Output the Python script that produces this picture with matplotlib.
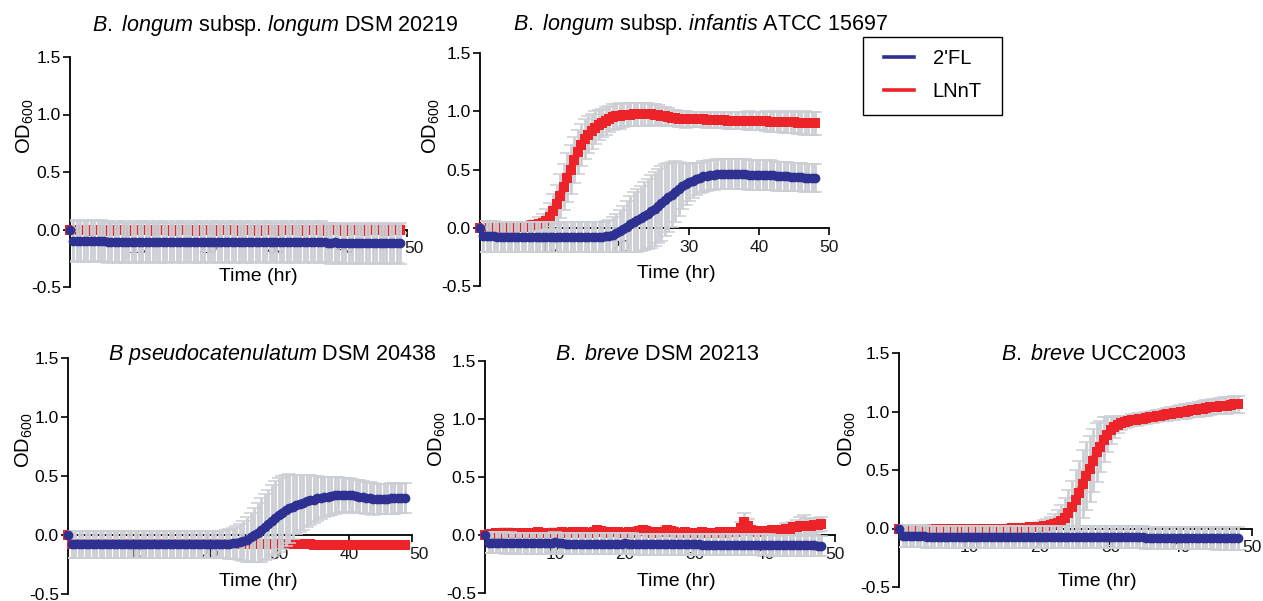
import numpy as np
import matplotlib
matplotlib.use("Agg")
import matplotlib.pyplot as plt
from matplotlib.lines import Line2D
from matplotlib.patches import Rectangle

plt.rcParams['font.family'] = ['Liberation Sans', 'DejaVu Sans']
plt.rcParams['mathtext.fontset'] = 'custom'
plt.rcParams['mathtext.rm'] = 'Liberation Sans'
plt.rcParams['mathtext.it'] = 'Liberation Sans:italic'
plt.rcParams['mathtext.bf'] = 'Liberation Sans:bold'

# ---------------- data ----------------
time_hr = np.arange(0, 48.5, 0.5)          # sampling times (hr)
series_labels = ["2'FL", "LNnT"]
x_ticks = [10, 20, 30, 40, 50]
x_tick_labels = ["10", "20", "30", "40", "50"]
y_ticks = [-0.5, 0.0, 0.5, 1.0, 1.5]
y_tick_labels = ["-0.5", "0.0", "0.5", "1.0", "1.5"]

titles = [
    r"$\mathit{B.}$ $\mathit{longum}$ subsp. $\mathit{longum}$ DSM 20219",
    r"$\mathit{B.}$ $\mathit{longum}$ subsp. $\mathit{infantis}$ ATCC 15697",
    r"$\mathit{B}$ $\mathit{pseudocatenulatum}$ DSM 20438",
    r"$\mathit{B.}$ $\mathit{breve}$ DSM 20213",
    r"$\mathit{B.}$ $\mathit{breve}$ UCC2003",
]

# B. longum subsp. longum DSM 20219
lon_2fl = [0.00, -0.10, -0.10, -0.10, -0.10, -0.10, -0.10, -0.10, -0.10, -0.10,
           -0.10, -0.11, -0.11, -0.11, -0.11, -0.11, -0.11, -0.11, -0.11, -0.11,
           -0.11, -0.11, -0.11, -0.11, -0.11, -0.11, -0.11, -0.11, -0.11, -0.11,
           -0.11, -0.11, -0.11, -0.11, -0.11, -0.11, -0.11, -0.11, -0.11, -0.11,
           -0.11, -0.11, -0.11, -0.11, -0.11, -0.11, -0.11, -0.11, -0.11, -0.11,
           -0.11, -0.11, -0.11, -0.11, -0.11, -0.11, -0.11, -0.11, -0.11, -0.11,
           -0.11, -0.11, -0.11, -0.11, -0.11, -0.11, -0.11, -0.11, -0.11, -0.11,
           -0.11, -0.11, -0.11, -0.11, -0.11, -0.12, -0.12, -0.11, -0.12, -0.12,
           -0.12, -0.12, -0.12, -0.12, -0.12, -0.12, -0.12, -0.12, -0.12, -0.12,
           -0.12, -0.12, -0.12, -0.12, -0.12, -0.12, -0.12]
lon_2fl_err = [0.01, 0.17, 0.18, 0.17, 0.18, 0.17, 0.17, 0.18, 0.17, 0.18,
               0.17, 0.18, 0.17, 0.17, 0.18, 0.17, 0.18, 0.17, 0.17, 0.18,
               0.17, 0.18, 0.17, 0.18, 0.17, 0.17, 0.18, 0.17, 0.18, 0.17,
               0.17, 0.18, 0.17, 0.18, 0.17, 0.17, 0.18, 0.17, 0.18, 0.17,
               0.17, 0.18, 0.17, 0.18, 0.17, 0.17, 0.18, 0.17, 0.18, 0.17,
               0.17, 0.18, 0.17, 0.18, 0.17, 0.17, 0.18, 0.17, 0.18, 0.17,
               0.17, 0.18, 0.17, 0.18, 0.17, 0.17, 0.18, 0.17, 0.18, 0.17,
               0.17, 0.18, 0.17, 0.18, 0.17, 0.17, 0.18, 0.17, 0.18, 0.17,
               0.17, 0.18, 0.17, 0.18, 0.17, 0.17, 0.18, 0.17, 0.18, 0.17,
               0.17, 0.18, 0.17, 0.18, 0.17, 0.17, 0.18]
lon_lnnt = [0.00, 0.00, 0.00, 0.00, 0.00, 0.00, -0.01, 0.00, 0.00, 0.00,
            0.00, 0.00, -0.01, 0.00, 0.00, 0.00, 0.00, -0.01, 0.00, 0.00,
            0.00, 0.00, 0.00, 0.00, -0.01, 0.00, 0.00, 0.00, 0.00, 0.00,
            -0.01, 0.00, 0.00, 0.00, 0.00, 0.00, 0.00, -0.01, 0.00, 0.00,
            0.00, 0.00, 0.00, -0.01, 0.00, 0.00, 0.00, 0.00, 0.00, -0.01,
            0.00, 0.00, 0.00, 0.00, 0.00, -0.01, 0.00, 0.00, 0.00, 0.00,
            0.00, -0.01, 0.00, 0.00, 0.00, 0.00, 0.00, 0.00, -0.01, 0.00,
            0.00, 0.00, 0.00, 0.00, -0.01, 0.00, 0.00, 0.00, 0.00, 0.00,
            -0.01, 0.00, 0.00, 0.00, 0.00, 0.00, -0.01, 0.00, 0.00, 0.00,
            0.00, 0.00, -0.01, 0.00, 0.00, 0.00, 0.00]
lon_lnnt_err = [0.01, 0.03, 0.03, 0.03, 0.03, 0.03, 0.03, 0.03, 0.03, 0.03,
                0.03, 0.03, 0.03, 0.03, 0.03, 0.03, 0.03, 0.03, 0.03, 0.03,
                0.03, 0.03, 0.03, 0.03, 0.03, 0.03, 0.03, 0.03, 0.03, 0.03,
                0.03, 0.03, 0.03, 0.03, 0.03, 0.03, 0.03, 0.03, 0.03, 0.03,
                0.03, 0.03, 0.03, 0.03, 0.03, 0.03, 0.03, 0.03, 0.03, 0.03,
                0.03, 0.03, 0.03, 0.03, 0.03, 0.03, 0.03, 0.03, 0.03, 0.03,
                0.03, 0.03, 0.03, 0.03, 0.03, 0.03, 0.03, 0.03, 0.03, 0.03,
                0.03, 0.03, 0.03, 0.03, 0.03, 0.03, 0.03, 0.03, 0.03, 0.03,
                0.03, 0.03, 0.03, 0.03, 0.03, 0.03, 0.03, 0.03, 0.03, 0.03,
                0.03, 0.03, 0.03, 0.03, 0.03, 0.03, 0.03]

# B. longum subsp. infantis ATCC 15697
inf_2fl = [0.00, -0.075, -0.075, -0.075, -0.075, -0.08, -0.08, -0.08, -0.08, -0.08,
           -0.08, -0.08, -0.08, -0.08, -0.08, -0.08, -0.08, -0.08, -0.08, -0.08,
           -0.08, -0.08, -0.08, -0.08, -0.08, -0.08, -0.08, -0.08, -0.08, -0.08,
           -0.08, -0.08, -0.08, -0.08, -0.08, -0.08, -0.075, -0.07, -0.06, -0.045,
           -0.03, -0.01, 0.01, 0.03, 0.05, 0.065, 0.08, 0.10, 0.12, 0.14,
           0.16, 0.185, 0.21, 0.235, 0.26, 0.285, 0.31, 0.335, 0.36, 0.375,
           0.39, 0.405, 0.42, 0.43, 0.44, 0.445, 0.45, 0.455, 0.46, 0.46,
           0.46, 0.46, 0.46, 0.46, 0.46, 0.46, 0.46, 0.455, 0.455, 0.455,
           0.455, 0.45, 0.45, 0.45, 0.45, 0.44, 0.44, 0.44, 0.44, 0.435,
           0.435, 0.435, 0.435, 0.43, 0.43, 0.43, 0.43]
inf_2fl_err = [0.01, 0.13, 0.13, 0.13, 0.13, 0.13, 0.13, 0.13, 0.13, 0.13,
               0.13, 0.13, 0.13, 0.13, 0.13, 0.13, 0.13, 0.13, 0.13, 0.13,
               0.13, 0.13, 0.13, 0.13, 0.13, 0.13, 0.13, 0.13, 0.13, 0.13,
               0.13, 0.13, 0.13, 0.13, 0.13, 0.13, 0.13, 0.14, 0.15, 0.16,
               0.18, 0.20, 0.22, 0.24, 0.26, 0.27, 0.28, 0.29, 0.30, 0.31,
               0.32, 0.32, 0.32, 0.31, 0.30, 0.28, 0.26, 0.23, 0.20, 0.18,
               0.16, 0.15, 0.14, 0.13, 0.13, 0.13, 0.13, 0.13, 0.13, 0.13,
               0.13, 0.13, 0.13, 0.13, 0.13, 0.13, 0.13, 0.13, 0.13, 0.13,
               0.13, 0.13, 0.13, 0.13, 0.125, 0.125, 0.125, 0.125, 0.125, 0.12,
               0.12, 0.12, 0.12, 0.12, 0.12, 0.12, 0.12]
inf_lnnt = [0.00, 0.00, 0.00, 0.00, 0.00, 0.00, 0.00, 0.00, 0.00, 0.00,
            0.00, 0.01, 0.01, 0.01, 0.01, 0.02, 0.02, 0.03, 0.04, 0.06,
            0.09, 0.14, 0.20, 0.27, 0.35, 0.43, 0.50, 0.58, 0.65, 0.71,
            0.76, 0.80, 0.83, 0.86, 0.88, 0.90, 0.92, 0.935, 0.95, 0.955,
            0.96, 0.965, 0.97, 0.97, 0.975, 0.975, 0.975, 0.975, 0.975, 0.975,
            0.97, 0.965, 0.96, 0.955, 0.95, 0.945, 0.94, 0.935, 0.935, 0.93,
            0.93, 0.93, 0.93, 0.93, 0.93, 0.925, 0.925, 0.925, 0.925, 0.925,
            0.925, 0.92, 0.92, 0.92, 0.92, 0.92, 0.92, 0.92, 0.915, 0.915,
            0.915, 0.915, 0.915, 0.91, 0.91, 0.91, 0.91, 0.905, 0.905, 0.905,
            0.905, 0.90, 0.90, 0.90, 0.895, 0.895, 0.895]
inf_lnnt_err = [0.01, 0.03, 0.03, 0.03, 0.03, 0.03, 0.03, 0.03, 0.03, 0.03,
                0.03, 0.03, 0.03, 0.03, 0.03, 0.04, 0.05, 0.06, 0.08, 0.10,
                0.12, 0.15, 0.17, 0.19, 0.20, 0.21, 0.21, 0.20, 0.19, 0.18,
                0.17, 0.16, 0.15, 0.14, 0.13, 0.12, 0.12, 0.11, 0.11, 0.11,
                0.11, 0.10, 0.10, 0.10, 0.10, 0.10, 0.10, 0.10, 0.10, 0.09,
                0.09, 0.09, 0.08, 0.08, 0.08, 0.07, 0.07, 0.07, 0.07, 0.07,
                0.065, 0.065, 0.065, 0.065, 0.065, 0.065, 0.07, 0.07, 0.07, 0.07,
                0.07, 0.07, 0.07, 0.075, 0.075, 0.075, 0.075, 0.08, 0.08, 0.08,
                0.08, 0.08, 0.085, 0.085, 0.085, 0.09, 0.09, 0.09, 0.09, 0.095,
                0.095, 0.095, 0.095, 0.10, 0.10, 0.10, 0.10]

# B pseudocatenulatum DSM 20438
pse_2fl = [0.00, -0.08, -0.08, -0.08, -0.08, -0.08, -0.08, -0.08, -0.08, -0.08,
           -0.08, -0.08, -0.08, -0.08, -0.08, -0.08, -0.08, -0.08, -0.08, -0.08,
           -0.08, -0.08, -0.08, -0.08, -0.08, -0.08, -0.08, -0.08, -0.08, -0.08,
           -0.08, -0.08, -0.08, -0.08, -0.08, -0.08, -0.08, -0.08, -0.08, -0.08,
           -0.08, -0.08, -0.08, -0.08, -0.08, -0.075, -0.075, -0.07, -0.065, -0.06,
           -0.05, -0.04, -0.02, 0.00, 0.02, 0.04, 0.065, 0.09, 0.12, 0.145,
           0.17, 0.19, 0.21, 0.225, 0.24, 0.255, 0.265, 0.275, 0.285, 0.295,
           0.30, 0.31, 0.315, 0.32, 0.325, 0.33, 0.335, 0.34, 0.34, 0.34,
           0.335, 0.335, 0.33, 0.325, 0.32, 0.315, 0.31, 0.305, 0.305, 0.305,
           0.305, 0.305, 0.31, 0.31, 0.31, 0.315, 0.315]
pse_2fl_err = [0.01, 0.115, 0.115, 0.115, 0.115, 0.115, 0.115, 0.115, 0.115, 0.115,
               0.115, 0.115, 0.115, 0.115, 0.115, 0.115, 0.115, 0.115, 0.115, 0.115,
               0.115, 0.115, 0.115, 0.115, 0.115, 0.115, 0.115, 0.115, 0.115, 0.115,
               0.115, 0.115, 0.115, 0.115, 0.115, 0.115, 0.115, 0.115, 0.115, 0.115,
               0.115, 0.115, 0.115, 0.115, 0.115, 0.12, 0.125, 0.13, 0.14, 0.15,
               0.17, 0.19, 0.21, 0.23, 0.25, 0.27, 0.28, 0.29, 0.30, 0.31,
               0.31, 0.31, 0.30, 0.29, 0.27, 0.25, 0.24, 0.23, 0.22, 0.21,
               0.20, 0.19, 0.18, 0.17, 0.165, 0.16, 0.155, 0.15, 0.145, 0.145,
               0.145, 0.14, 0.14, 0.14, 0.135, 0.135, 0.135, 0.135, 0.13, 0.13,
               0.13, 0.13, 0.13, 0.13, 0.125, 0.125, 0.125]
pse_lnnt = [0.00, -0.08, -0.08, -0.08, -0.08, -0.08, -0.08, -0.08, -0.08, -0.08,
            -0.08, -0.08, -0.08, -0.08, -0.08, -0.08, -0.08, -0.08, -0.08, -0.08,
            -0.08, -0.08, -0.08, -0.08, -0.08, -0.08, -0.08, -0.08, -0.08, -0.08,
            -0.08, -0.08, -0.08, -0.08, -0.08, -0.08, -0.08, -0.08, -0.08, -0.08,
            -0.08, -0.08, -0.08, -0.08, -0.08, -0.08, -0.08, -0.08, -0.08, -0.08,
            -0.08, -0.08, -0.08, -0.08, -0.08, -0.08, -0.08, -0.08, -0.08, -0.08,
            -0.08, -0.08, -0.08, -0.08, -0.08, -0.08, -0.08, -0.08, -0.08, -0.08,
            -0.085, -0.085, -0.085, -0.085, -0.085, -0.085, -0.085, -0.085, -0.085, -0.085,
            -0.085, -0.085, -0.085, -0.085, -0.085, -0.085, -0.085, -0.085, -0.085, -0.085,
            -0.085, -0.085, -0.085, -0.085, -0.085, -0.085, -0.085]
pse_lnnt_err = [0.01, 0.02, 0.02, 0.02, 0.02, 0.02, 0.02, 0.02, 0.02, 0.02,
                0.02, 0.02, 0.02, 0.02, 0.02, 0.02, 0.02, 0.02, 0.02, 0.02,
                0.02, 0.02, 0.02, 0.02, 0.02, 0.02, 0.02, 0.02, 0.02, 0.02,
                0.02, 0.02, 0.02, 0.02, 0.02, 0.02, 0.02, 0.02, 0.02, 0.02,
                0.02, 0.02, 0.02, 0.02, 0.02, 0.02, 0.02, 0.02, 0.02, 0.02,
                0.02, 0.02, 0.02, 0.02, 0.02, 0.02, 0.02, 0.02, 0.02, 0.02,
                0.02, 0.02, 0.02, 0.02, 0.02, 0.02, 0.02, 0.02, 0.02, 0.02,
                0.02, 0.02, 0.02, 0.02, 0.02, 0.02, 0.02, 0.02, 0.02, 0.02,
                0.02, 0.02, 0.02, 0.02, 0.02, 0.02, 0.02, 0.02, 0.02, 0.02,
                0.02, 0.02, 0.02, 0.02, 0.02, 0.02, 0.02]

# B. breve DSM 20213
bd_2fl = [0.00, -0.065, -0.065, -0.065, -0.065, -0.065, -0.07, -0.065, -0.07, -0.07,
          -0.07, -0.07, -0.07, -0.07, -0.07, -0.07, -0.07, -0.07, -0.07, -0.07,
          -0.06, -0.07, -0.07, -0.075, -0.075, -0.075, -0.075, -0.075, -0.075, -0.075,
          -0.075, -0.075, -0.075, -0.075, -0.075, -0.075, -0.075, -0.075, -0.075, -0.075,
          -0.07, -0.075, -0.075, -0.08, -0.08, -0.08, -0.08, -0.08, -0.08, -0.08,
          -0.08, -0.08, -0.08, -0.08, -0.08, -0.08, -0.08, -0.08, -0.08, -0.08,
          -0.08, -0.08, -0.085, -0.085, -0.085, -0.085, -0.085, -0.085, -0.085, -0.085,
          -0.085, -0.085, -0.085, -0.085, -0.085, -0.085, -0.085, -0.085, -0.085, -0.085,
          -0.085, -0.085, -0.09, -0.09, -0.09, -0.09, -0.09, -0.09, -0.09, -0.09,
          -0.09, -0.09, -0.09, -0.09, -0.09, -0.095, -0.095]
bd_2fl_err = [0.01, 0.09, 0.09, 0.09, 0.09, 0.09, 0.09, 0.09, 0.09, 0.09,
              0.09, 0.09, 0.09, 0.09, 0.09, 0.09, 0.09, 0.09, 0.09, 0.09,
              0.09, 0.09, 0.09, 0.09, 0.09, 0.09, 0.09, 0.09, 0.09, 0.09,
              0.09, 0.09, 0.09, 0.09, 0.09, 0.09, 0.09, 0.09, 0.09, 0.09,
              0.09, 0.09, 0.09, 0.09, 0.09, 0.09, 0.09, 0.09, 0.09, 0.09,
              0.09, 0.09, 0.09, 0.09, 0.09, 0.09, 0.09, 0.09, 0.09, 0.09,
              0.09, 0.09, 0.09, 0.09, 0.09, 0.09, 0.09, 0.09, 0.09, 0.09,
              0.09, 0.09, 0.09, 0.09, 0.09, 0.09, 0.09, 0.09, 0.09, 0.09,
              0.09, 0.09, 0.09, 0.09, 0.09, 0.09, 0.09, 0.09, 0.09, 0.09,
              0.09, 0.09, 0.09, 0.09, 0.09, 0.09, 0.09]
bd_lnnt = [0.00, 0.01, 0.01, 0.015, 0.01, 0.015, 0.02, 0.015, 0.02, 0.015,
           0.02, 0.02, 0.015, 0.02, 0.02, 0.025, 0.02, 0.02, 0.015, 0.02,
           0.02, 0.02, 0.025, 0.02, 0.02, 0.03, 0.025, 0.02, 0.025, 0.02,
           0.02, 0.03, 0.04, 0.035, 0.025, 0.02, 0.025, 0.03, 0.025, 0.02,
           0.02, 0.025, 0.02, 0.02, 0.035, 0.045, 0.035, 0.025, 0.02, 0.02,
           0.025, 0.03, 0.04, 0.035, 0.025, 0.02, 0.02, 0.025, 0.02, 0.02,
           0.02, 0.02, 0.025, 0.02, 0.02, 0.02, 0.02, 0.025, 0.02, 0.02,
           0.025, 0.025, 0.03, 0.06, 0.11, 0.08, 0.04, 0.035, 0.03, 0.03,
           0.035, 0.035, 0.04, 0.04, 0.035, 0.04, 0.05, 0.055, 0.065, 0.07,
           0.075, 0.08, 0.075, 0.08, 0.085, 0.09, 0.095]
bd_lnnt_err = [0.01, 0.03, 0.03, 0.03, 0.03, 0.03, 0.04, 0.03, 0.03, 0.03,
               0.03, 0.03, 0.03, 0.03, 0.03, 0.03, 0.03, 0.03, 0.03, 0.03,
               0.04, 0.03, 0.03, 0.03, 0.03, 0.03, 0.03, 0.03, 0.03, 0.03,
               0.03, 0.03, 0.03, 0.03, 0.03, 0.03, 0.03, 0.03, 0.03, 0.03,
               0.03, 0.03, 0.03, 0.03, 0.03, 0.03, 0.03, 0.03, 0.03, 0.03,
               0.03, 0.03, 0.04, 0.03, 0.03, 0.03, 0.03, 0.03, 0.03, 0.03,
               0.03, 0.03, 0.03, 0.03, 0.03, 0.03, 0.03, 0.03, 0.03, 0.03,
               0.03, 0.03, 0.03, 0.05, 0.08, 0.06, 0.04, 0.03, 0.03, 0.03,
               0.03, 0.03, 0.03, 0.04, 0.04, 0.04, 0.05, 0.05, 0.05, 0.06,
               0.08, 0.09, 0.07, 0.06, 0.06, 0.06, 0.06]

# B. breve UCC2003
uc_2fl = [0.00, -0.065, -0.065, -0.065, -0.065, -0.065, -0.065, -0.065, -0.07, -0.07,
          -0.07, -0.07, -0.07, -0.07, -0.07, -0.07, -0.07, -0.07, -0.07, -0.07,
          -0.07, -0.07, -0.07, -0.07, -0.07, -0.07, -0.07, -0.07, -0.07, -0.07,
          -0.07, -0.07, -0.07, -0.07, -0.07, -0.07, -0.07, -0.07, -0.07, -0.07,
          -0.075, -0.075, -0.075, -0.075, -0.075, -0.075, -0.075, -0.075, -0.075, -0.075,
          -0.075, -0.075, -0.075, -0.075, -0.075, -0.075, -0.075, -0.075, -0.075, -0.075,
          -0.075, -0.075, -0.075, -0.075, -0.075, -0.075, -0.075, -0.075, -0.075, -0.075,
          -0.08, -0.08, -0.08, -0.08, -0.08, -0.08, -0.08, -0.08, -0.08, -0.08,
          -0.08, -0.08, -0.08, -0.08, -0.08, -0.08, -0.08, -0.08, -0.08, -0.08,
          -0.085, -0.085, -0.085, -0.085, -0.085, -0.085, -0.085]
uc_2fl_err = [0.01, 0.095, 0.095, 0.095, 0.095, 0.095, 0.095, 0.095, 0.095, 0.095,
              0.095, 0.095, 0.095, 0.095, 0.095, 0.095, 0.095, 0.095, 0.095, 0.095,
              0.095, 0.095, 0.095, 0.095, 0.095, 0.095, 0.095, 0.095, 0.095, 0.095,
              0.095, 0.095, 0.095, 0.095, 0.095, 0.095, 0.095, 0.095, 0.095, 0.095,
              0.095, 0.095, 0.095, 0.095, 0.095, 0.095, 0.095, 0.095, 0.095, 0.095,
              0.095, 0.095, 0.095, 0.095, 0.095, 0.095, 0.095, 0.095, 0.095, 0.095,
              0.095, 0.095, 0.095, 0.095, 0.095, 0.095, 0.095, 0.095, 0.095, 0.095,
              0.095, 0.095, 0.095, 0.095, 0.095, 0.095, 0.095, 0.095, 0.095, 0.095,
              0.095, 0.095, 0.095, 0.095, 0.095, 0.095, 0.095, 0.095, 0.095, 0.095,
              0.095, 0.095, 0.095, 0.095, 0.095, 0.095, 0.095]
uc_lnnt = [0.00, 0.00, 0.00, 0.00, 0.00, 0.00, 0.00, 0.00, 0.00, 0.00,
           0.00, 0.00, 0.00, 0.00, 0.00, 0.00, 0.00, 0.00, 0.00, 0.00,
           0.00, 0.00, 0.00, 0.00, 0.00, 0.00, 0.00, 0.00, 0.00, 0.00,
           0.00, 0.00, 0.005, 0.005, 0.005, 0.005, 0.005, 0.01, 0.01, 0.01,
           0.015, 0.02, 0.025, 0.03, 0.035, 0.045, 0.06, 0.09, 0.13, 0.18,
           0.24, 0.30, 0.38, 0.45, 0.51, 0.58, 0.65, 0.70, 0.76, 0.80,
           0.84, 0.865, 0.885, 0.90, 0.91, 0.915, 0.925, 0.93, 0.935, 0.94,
           0.945, 0.95, 0.955, 0.96, 0.965, 0.97, 0.975, 0.98, 0.985, 0.99,
           0.995, 1.00, 1.005, 1.01, 1.015, 1.02, 1.025, 1.03, 1.035, 1.04,
           1.04, 1.045, 1.05, 1.05, 1.055, 1.06, 1.06]
uc_lnnt_err = [0.01, 0.03, 0.03, 0.03, 0.03, 0.03, 0.03, 0.03, 0.03, 0.03,
               0.03, 0.03, 0.03, 0.03, 0.03, 0.03, 0.03, 0.03, 0.03, 0.03,
               0.03, 0.03, 0.03, 0.03, 0.03, 0.03, 0.03, 0.03, 0.03, 0.03,
               0.03, 0.03, 0.03, 0.03, 0.03, 0.03, 0.03, 0.03, 0.03, 0.035,
               0.04, 0.05, 0.06, 0.07, 0.09, 0.11, 0.14, 0.17, 0.20, 0.23,
               0.26, 0.28, 0.29, 0.29, 0.28, 0.27, 0.25, 0.22, 0.19, 0.15,
               0.12, 0.09, 0.07, 0.06, 0.05, 0.05, 0.05, 0.05, 0.05, 0.05,
               0.05, 0.05, 0.05, 0.05, 0.05, 0.055, 0.055, 0.055, 0.055, 0.055,
               0.06, 0.06, 0.06, 0.06, 0.06, 0.065, 0.065, 0.065, 0.065, 0.065,
               0.065, 0.07, 0.07, 0.07, 0.07, 0.075, 0.075]

# ---------------- layout ----------------
W, H = 1263, 601
BLUE = '#2E3192'
RED = '#EC2329'
GRAY = '#CBCED3'

fig = plt.figure(figsize=(W / 100, H / 100), dpi=100)

# box = (x of t=0, x of t=50, y of 1.5, y of -0.5) in pixels; axis_end = end of x axis line (hr)
panels = [
    dict(fl=lon_2fl, fle=lon_2fl_err, ln=lon_lnnt, lne=lon_lnnt_err, axis_end=49.0,
         box=(70, 414, 57, 287), title=(275, 31), xlab=(258, 281), ylab=(25, 126)),
    dict(fl=inf_2fl, fle=inf_2fl_err, ln=inf_lnnt, lne=inf_lnnt_err, axis_end=50.0,
         box=(480, 829, 53, 286), title=(700, 30), xlab=(676, 278), ylab=(431, 126)),
    dict(fl=pse_2fl, fle=pse_2fl_err, ln=pse_lnnt, lne=pse_lnnt_err, axis_end=49.0,
         box=(68, 419, 358, 594), title=(272, 360), xlab=(258, 586), ylab=(24, 440)),
    dict(fl=bd_2fl, fle=bd_2fl_err, ln=bd_lnnt, lne=bd_lnnt_err, axis_end=50.0,
         box=(485, 835, 361, 593), title=(657, 360), xlab=(676, 586), ylab=(437, 439)),
    dict(fl=uc_2fl, fle=uc_2fl_err, ln=uc_lnnt, lne=uc_lnnt_err, axis_end=50.0,
         box=(899, 1252, 353, 587), title=(1094, 360), xlab=(1097, 586), ylab=(847, 439)),
]

for p, ttl in zip(panels, titles):
    l, r, t, b = p['box']
    ax = fig.add_axes([l / W, 1 - b / H, (r - l) / W, (b - t) / H])
    ax.set_xlim(0, 50)
    ax.set_ylim(-0.5, 1.5)
    ax.set_axisbelow(True)
    ax.patch.set_visible(False)
    for s in ['top', 'right']:
        ax.spines[s].set_visible(False)
    ax.spines['bottom'].set_position(('data', 0))
    ax.spines['bottom'].set_bounds(0, p['axis_end'])
    for s in ['left', 'bottom']:
        ax.spines[s].set_linewidth(1.3)
        ax.spines[s].set_zorder(0.6)
    ax.set_xticks(x_ticks)
    ax.set_xticklabels(x_tick_labels)
    ax.set_yticks(y_ticks)
    ax.set_yticklabels(y_tick_labels)
    ax.tick_params(axis='x', which='both', direction='out', length=5, width=1.2,
                   labelsize=12.5, pad=3.5, colors='black')
    ax.tick_params(axis='y', direction='out', length=5, width=1.2,
                   labelsize=12.5, pad=1.5, colors='black')
    if p['axis_end'] < 50:
        ax.xaxis.get_major_ticks()[-1].tick1line.set_visible(False)
        ax.set_xticks([p['axis_end']], minor=True)
    for lbl in ax.get_xticklabels():
        lbl.set_color('#1a1a1a')

    tt = time_hr
    ln = np.array(p['ln']); lne = np.array(p['lne'])
    fl = np.array(p['fl']); fle = np.array(p['fle'])

    # LNnT
    ax.errorbar(tt, ln, yerr=lne, fmt='none', ecolor=GRAY, elinewidth=2.0,
                capsize=5, capthick=1.1, zorder=2)
    ax.plot(tt[1:], ln[1:], '-', color=RED, lw=5.2, zorder=3,
            solid_capstyle='butt')
    ax.plot(tt, ln, 's', color=RED, ms=6.8, mew=0, zorder=3, clip_on=False)
    # 2'FL
    ax.errorbar(tt, fl, yerr=fle, fmt='none', ecolor=GRAY, elinewidth=2.0,
                capsize=5, capthick=1.1, zorder=4)
    ax.plot(tt[1:], fl[1:], '-', color=BLUE, lw=5.2, zorder=5,
            solid_capstyle='round')
    ax.plot(tt, fl, 'o', color=BLUE, ms=7.0, mew=0, zorder=5, clip_on=False)

    tx, ty = p['title']
    fig.text(tx / W, 1 - ty / H, ttl, ha='center', va='baseline', fontsize=15.5)
    xx, xy = p['xlab']
    fig.text(xx / W, 1 - xy / H, 'Time (hr)', ha='center', va='baseline',
             fontsize=14)
    yx, yy = p['ylab']
    fig.text(yx / W, 1 - yy / H, r'OD$_{600}$', rotation=90, ha='center',
             va='center', fontsize=14.5)

# legend
handles = [Line2D([], [], color=BLUE, lw=2.6), Line2D([], [], color=RED, lw=2.6)]
fig.legend(handles, series_labels, loc='center', bbox_to_anchor=(933 / W, 1 - 75 / H),
           frameon=False, fontsize=14.5, handlelength=1.5, handletextpad=0.9,
           labelspacing=0.7)
fig.add_artist(Rectangle((863 / W, 1 - 115 / H), 139 / W, 78 / H,
                         transform=fig.transFigure, fill=False, lw=1.0,
                         ec='black'))

fig.savefig('out.png', dpi=100)
